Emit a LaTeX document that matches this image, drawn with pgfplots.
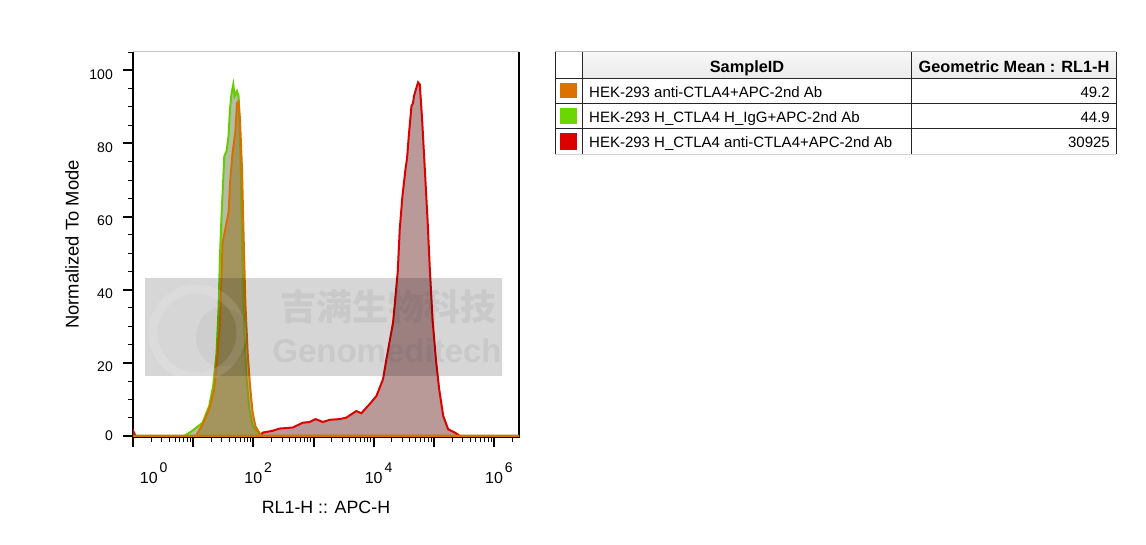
\documentclass[border=0pt]{standalone}
\usepackage{fontspec}
\setmainfont{Liberation Sans}
\newfontfamily\cjk{Noto Sans CJK SC}
\usepackage{pgfplots}
\pgfplotsset{compat=1.18}

\definecolor{orLine}{RGB}{216,112,0}
\definecolor{grLine}{RGB}{102,204,0}
\definecolor{rdLine}{RGB}{221,0,0}
\definecolor{orFill}{RGB}{156,123,48}
\definecolor{grFill}{RGB}{127,147,105}
\definecolor{rdFill}{RGB}{140,85,85}
\definecolor{swOr}{RGB}{220,112,0}
\definecolor{swGr}{RGB}{108,214,0}
\definecolor{swRd}{RGB}{220,0,0}

% decade label: "10" centred on the tick, exponent hanging to the right
\newcommand{\dec}[2][0pt]{\makebox[0pt]{\fontsize{16}{18}\selectfont\hspace{#1}10\rlap{\hspace{2pt}\raisebox{11.7pt}{\fontsize{14}{15}\selectfont #2}}}}

\begin{document}
\begin{tikzpicture}[x=1pt,y=1pt]
\path[use as bounding box] (0,0) rectangle (1146,544);

% plot frame: black on three sides, grey on top
\draw[black, line width=1.5pt] (133,492) -- (133,107) -- (519,107) -- (519,492);
\draw[gray!45, line width=1pt] (133,492) -- (519,492);

\begin{axis}[
  at={(133pt,107pt)}, anchor=south west,
  scale only axis, width=386pt, height=385pt,
  xmode=log, xmin=1, xmax=2.6e6,
  ymin=-0.3, ymax=105,
  axis line style={draw=none},
  tick align=outside, tick pos=left,
  major tick length=10pt, minor tick length=5pt,
  major tick style={line width=2pt, black},
  minor tick style={line width=0.9pt, black},
  xtick={1,10,100,1000,10000,100000,1000000},
  xticklabels={\dec[31.6pt]{0},,\dec{2},,\dec{4},,\dec{6}},
  minor xtick={2,3,4,5,6,7,8,9,20,30,40,50,60,70,80,90,200,300,400,500,600,700,800,900,
    2000,3000,4000,5000,6000,7000,8000,9000,20000,30000,40000,50000,60000,70000,80000,90000,
    200000,300000,400000,500000,600000,700000,800000,900000,2000000},
  xticklabel style={anchor=base, inner sep=0pt, yshift=-36.7pt},
  ytick={0,20,40,60,80,100},
  minor ytick={5,10,15,25,30,35,45,50,55,65,70,75,85,90,95,105},
  yticklabels={\raisebox{9pt}{0},20,40,60,80,100},
  yticklabel style={anchor=east, inner sep=0pt, xshift=-10pt, yshift=-4pt, font=\fontsize{14}{16}\selectfont},
  ylabel={Normalized To Mode},
  ylabel style={font=\fontsize{18.4}{20}\selectfont, at={(axis description cs:-0.158,0.5)}, anchor=center},
  xlabel={RL1-H :: APC-H},
  xlabel style={font=\fontsize{17.8}{20}\selectfont, at={(axis description cs:0.5,-0.184)}, anchor=center},
]
% HEK-293 H_CTLA4 anti-CTLA4+APC-2nd Ab
\addplot[draw=rdLine, line width=2pt, fill=rdFill, fill opacity=0.6] coordinates {
(1,1.5) (1.1,0) (130,0) (143,0.9) (210,1.4) (271,2) (452,2.3) (663,3.6) (858,3.8)
(1080,4.6) (1429,3.8) (1848,4.4) (2712,4.6) (3508,5) (5148,6.8) (6237,6.2) (8577,8.7)
(11092,10.9) (14289,15.5) (16290,21) (18478,26) (20990,31) (22400,36) (25120,45)
(27100,56.5) (30050,65.6) (33740,72.9) (35900,76) (38300,82) (42460,90.2) (45000,91)
(46900,93) (50120,94.7) (54700,96.7) (58440,96.1) (63830,86.5) (70790,72.9) (78520,59.2)
(85770,45.5) (95070,31.9) (108000,21) (122500,12.8) (142900,5.5) (173000,1.8)
(223900,0.9) (271200,0) (2600000,0)} \closedcycle;
% HEK-293 H_CTLA4 H_IgG+APC-2nd Ab
\addplot[draw=grLine, line width=2pt, fill=grFill, fill opacity=0.6] coordinates {
(1,0) (7.1,0) (9.7,1.4) (14.3,3.6) (18.5,8.2) (21.5,13.7) (24.5,22.8) (26.4,34.6)
(27.9,49.2) (29.6,60.1) (31.6,70.1) (32.9,76.5) (35.9,77.9) (38.7,82) (40.9,89.3)
(43.5,93.8) (46.4,96.1) (48.8,92.9) (53.5,94.3) (56.9,92.9) (60,82) (63.1,63.8)
(66.4,45.5) (70.8,27.3) (77.3,15.5) (85.8,7.3) (97.3,2.7) (118,1) (130,0) (2600000,0)} \closedcycle;
% HEK-293 anti-CTLA4+APC-2nd Ab
\addplot[draw=orLine, line width=2pt, fill=orFill, fill opacity=0.6] coordinates {
(1,0) (11.1,0) (12.6,1.5) (14.2,3) (18.5,7.3) (22.4,12.8) (25.4,21.9) (27.9,31)
(29.6,43.7) (30.8,52.9) (34.1,56.5) (38.7,61) (41.4,70) (45.2,77.5) (50.1,83)
(53.5,91) (56.9,91.5) (60,86.5) (64.8,73) (68.9,54.6) (73.6,36.5) (80.4,22.8)
(88.1,13.7) (97.3,6.4) (108,2.7) (126,0.8) (136,0) (2600000,0)} \closedcycle;
\end{axis}

% watermark
\fill[black, opacity=0.16] (145,266) rectangle (502,168);
\draw[white, opacity=0.12, line width=9pt] (197,211) circle (44);
\fill[black, opacity=0.04] (222,207) ellipse (26 and 30);
\node[black, opacity=0.06, font=\cjk\bfseries\fontsize{36}{40}\selectfont, inner sep=0pt] at (388,237) {吉满生物科技};
\node[black, opacity=0.06, font=\bfseries\fontsize{33}{36}\selectfont, inner sep=0pt, anchor=base] at (387,181) {Genomeditech};

% sample table
\shade[top color=gray!6, bottom color=gray!16] (582.3,465.7) rectangle (1116,492.3);
\fill[swOr] (560,445.7) rectangle (576.7,460.7);
\fill[swGr] (560,419.7) rectangle (576.7,435.7);
\fill[swRd] (560,394) rectangle (576.7,411);
\draw[gray!55, line width=1pt] (555,492.3) -- (1116,492.3);
\draw[gray!35, line width=1pt] (555,389.7) -- (1116,389.7);
\draw[black!85, line width=1pt] (555,465.7) -- (1116,465.7) (555,440.7) -- (1116,440.7) (555,415.7) -- (1116,415.7);
\draw[black!85, line width=1pt] (555,492.3) -- (555,389.7) (582.3,492.3) -- (582.3,389.7)
  (911.7,492.3) -- (911.7,389.7) (1116,492.3) -- (1116,389.7);
\node[font=\bfseries\fontsize{16.3}{18}\selectfont, anchor=base, inner sep=0pt] at (747,471.5) {SampleID};
\node[font=\bfseries\fontsize{16.3}{18}\selectfont, anchor=base, inner sep=0pt] at (1014,471.5) {Geometric Mean : RL1-H};
\begin{scope}[every node/.style={font=\fontsize{15}{17}\selectfont, inner sep=0pt}]
\node[anchor=base west] at (589,446) {HEK-293 anti-CTLA4+APC-2nd Ab};
\node[anchor=base west] at (589,421) {HEK-293 H\_CTLA4 H\_IgG+APC-2nd Ab};
\node[anchor=base west] at (589,396) {HEK-293 H\_CTLA4 anti-CTLA4+APC-2nd Ab};
\node[anchor=base east] at (1110,446) {49.2};
\node[anchor=base east] at (1110,421) {44.9};
\node[anchor=base east] at (1110,396) {30925};
\end{scope}
\end{tikzpicture}
\end{document}
